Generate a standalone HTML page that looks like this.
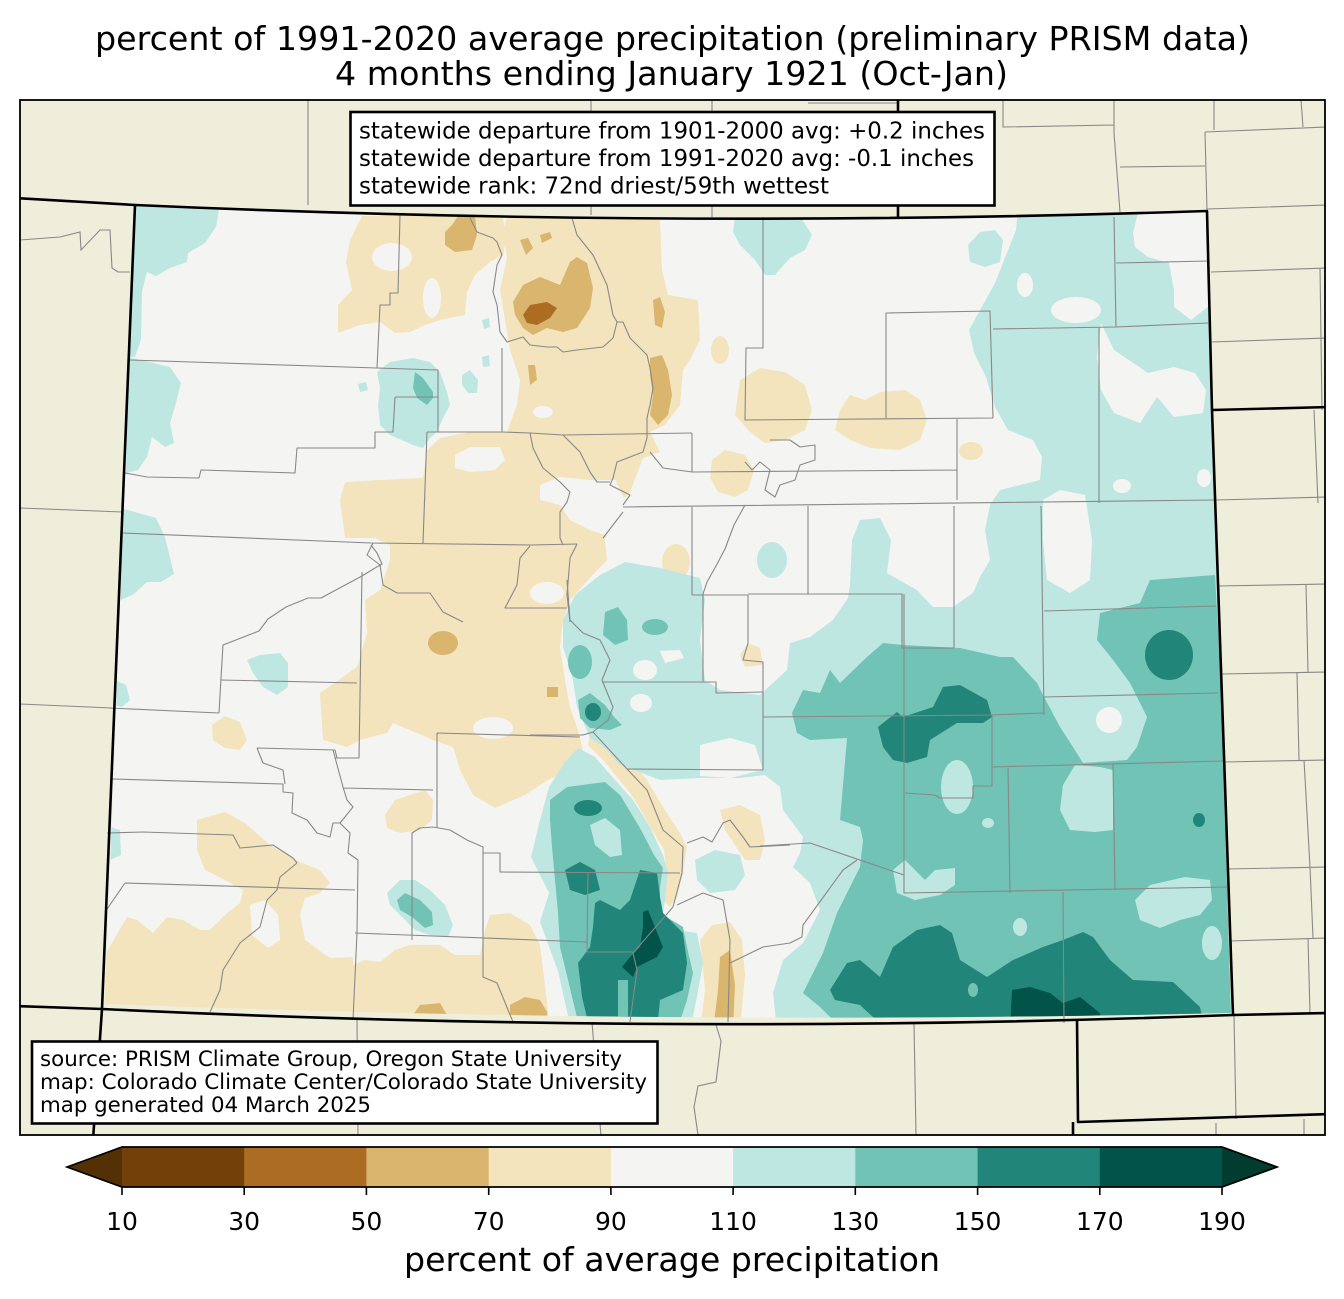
<!DOCTYPE html>
<html><head><meta charset="utf-8"><style>html,body{margin:0;padding:0;background:#fff}svg{display:block}text{font-family:"DejaVu Sans","Liberation Sans",sans-serif;fill:#000}</style></head><body>
<svg width="1344" height="1299" viewBox="0 0 1344 1299" xmlns="http://www.w3.org/2000/svg">
<rect width="1344" height="1299" fill="#fff"/>
<text x="95" y="50" font-size="33.3" textLength="1155" lengthAdjust="spacingAndGlyphs">percent of 1991-2020 average precipitation (preliminary PRISM data)</text>
<text x="335" y="85" font-size="33.3" textLength="673" lengthAdjust="spacingAndGlyphs">4 months ending January 1921 (Oct-Jan)</text>
<defs>
<clipPath id="fr"><rect x="20" y="100" width="1305" height="1035"/></clipPath>
<clipPath id="dc"><path d="M135,205 Q671,229 1207,211 L1212,410 L1231,1013 Q667,1025.5 105,1004 Z"/></clipPath>
</defs>
<g clip-path="url(#fr)">
<rect x="20" y="100" width="1305" height="1035" fill="#efeedb"/>
<g fill="none" stroke="#888" stroke-width="1.1">
<path d="M308,100 L308,205 M591,100 L591,215 M712,100 L712,217 M808,103 L897,103"/>
<path d="M1003,100 L1003,127 L1114,125 M1114,100 L1114,133 L1120,212 M1120,167 L1205,166 M1205,132 L1327,127 M1214,100 L1214,130 M1301,100 L1303,127 M1205,132 L1207,211 M1207,209 L1327,205 M1211,272 L1327,268 M1212,342 L1327,338 M1320,268 L1322,410"/>
<path d="M1216,500 L1327,497 M1314,410 L1318,503 M1218,586 L1327,584 M1306,584 L1308,672 M1221,674 L1327,672 M1297,672 L1299,760 M1223,762 L1327,760 M1304,760 L1310,867 M1227,869 L1327,867 M1310,867 L1313,938 M1230,941 L1327,938 M1308,938 L1310,1014"/>
<path d="M914,1024 L916,1135 M1234,1016 L1236,1119 M1216,1123 L1216,1135 M1304,1119 L1304,1135 M716,1025 L721,1041 L716,1082 L698,1086 L694,1107 L698,1135 M357,1018 L358,1136 M592,1022 L601,1136"/>
<path d="M20,240 L60,237 L80,232 L81,250 L100,230 L110,230 L112,268 L118,272 L130,272 M20,508 L122,512 M20,704 L112,708"/>
</g>
<g clip-path="url(#dc)">
<rect x="90" y="200" width="1160" height="840" fill="#f4f5f3"/>
<g fill="#f3e4bd">
<polygon points="362,216 470,216 503,218 506,240 503,255 490,262 475,275 467,292 465,315 450,318 440,320 425,325 410,332 395,333 380,322 360,325 338,333 338,305 352,290 346,262 350,240"/>
<polygon points="507,218 660,218 662,270 668,295 698,300 700,340 690,360 683,370 680,405 665,425 650,432 660,452 643,458 630,492 617,505 612,520 605,540 607,560 588,580 570,600 563,620 560,647 565,680 570,707 578,730 583,750 570,770 548,780 525,795 495,808 473,795 460,770 453,747 433,740 393,723 387,733 360,740 347,747 323,740 320,693 357,667 367,633 365,600 380,590 390,560 390,545 375,538 345,538 340,500 345,482 380,480 423,478 427,450 440,438 470,432 507,432 517,405 520,380 510,350 505,320 500,290 507,258 503,230"/>
<polygon points="105,1020 105,955 127,917 137,920 153,933 167,917 183,920 200,930 210,930 227,913 240,903 243,890 225,880 205,870 197,850 197,820 225,812 245,823 270,845 300,862 320,870 330,883 320,893 305,898 300,915 305,940 330,958 353,957 355,1030"/>
<polygon points="353,1030 353,965 365,960 380,962 395,950 410,945 440,945 455,955 480,955 485,930 490,915 510,913 530,925 540,945 545,985 550,1030"/>
<polygon points="212,725 225,716 240,722 247,740 240,750 225,748 213,740"/>
<polygon points="385,815 395,800 410,795 425,790 433,800 432,820 420,830 400,833 387,828"/>
<polygon points="590,733 610,737 630,760 647,780 663,807 680,833 687,847 683,873 677,897 670,907 663,900 667,873 664,850 648,823 633,797 617,777 603,760 588,745"/>
<polygon points="720,810 740,805 760,815 765,840 760,860 745,860 735,845 725,830"/>
<polygon points="700,940 712,925 730,922 742,940 745,975 740,1030 700,1030 705,990"/>
<polygon points="740,380 760,368 785,372 805,385 812,410 805,430 785,440 765,443 750,432 735,415"/>
<polygon points="840,410 850,395 865,400 880,392 905,390 920,400 927,420 920,440 900,450 870,448 850,440 835,430"/>
<ellipse cx="971" cy="451" rx="12" ry="9"/>
<polygon points="712,460 725,450 745,455 754,470 748,490 735,497 718,492 710,478"/>
<ellipse cx="676" cy="562" rx="14" ry="18"/>
<polygon points="740,655 748,643 760,648 763,665 745,667"/>
<ellipse cx="720" cy="350" rx="9" ry="14"/>
</g>
<g fill="#f4f5f3">
<ellipse cx="392" cy="257" rx="20" ry="14"/>
<ellipse cx="432" cy="298" rx="9" ry="20"/>
<polygon points="455,455 470,447 500,447 505,460 495,470 470,472 455,468"/>
<ellipse cx="543" cy="412" rx="10" ry="6"/>
<polygon points="540,485 560,477 590,480 615,480 625,500 620,520 605,535 590,530 570,520 560,505 540,500"/>
<ellipse cx="547" cy="593" rx="17" ry="11"/>
<ellipse cx="493" cy="728" rx="20" ry="11"/>
<polygon points="250,905 265,900 278,915 280,940 268,948 252,935"/>
</g>
<g fill="#dab56d">
<polygon points="458,216 475,216 477,235 472,250 455,252 445,245 445,232 452,225"/>
<polygon points="513,302 523,285 540,277 560,285 570,262 577,257 587,263 593,288 590,308 577,328 563,332 547,328 533,335 523,328 515,315"/>
<polygon points="520,240 528,238 533,248 526,255"/>
<polygon points="540,235 550,232 552,238 542,243"/>
<polygon points="650,358 662,355 668,370 672,395 668,415 658,425 650,415 653,395 650,375"/>
<polygon points="653,300 660,297 665,312 662,328 655,325"/>
<polygon points="528,365 535,365 537,380 530,385"/>
<ellipse cx="443" cy="643" rx="15" ry="12"/>
<polygon points="547,687 558,687 558,697 547,697"/>
<polygon points="413,1015 420,1005 440,1003 447,1015 447,1030 413,1030"/>
<polygon points="510,1005 525,997 540,1000 547,1012 548,1030 510,1030"/>
<polygon points="720,957 730,950 735,985 733,1030 713,1030 718,990"/>
</g>
<polygon fill="#ac6c21" points="523,315 530,305 547,302 557,308 550,318 537,325 527,323"/>
<g fill="#bfe7e2">
<polygon points="128,205 219,210 216,227 205,243 188,253 187,262 170,268 156,276 147,272 142,292 141,340 135,357 128,357"/>
<polygon points="128,357 170,367 181,383 176,403 170,423 174,443 165,447 152,437 147,457 138,470 126,473"/>
<polygon points="121,508 156,518 165,537 174,574 161,582 147,582 134,594 121,600"/>
<polygon points="247,660 260,655 280,653 288,663 288,687 277,695 263,687 253,673"/>
<polygon points="115,680 126,685 130,700 122,707 114,705"/>
<polygon points="110,827 120,830 121,855 110,860"/>
<polygon points="377,372 390,362 413,358 430,362 440,372 447,392 450,405 443,418 437,432 430,438 423,448 413,445 397,438 390,435 380,425 378,405 380,388"/>
<polygon points="358,384 366,382 368,390 360,392"/>
<polygon points="462,375 470,370 478,380 477,393 468,393 462,385"/>
<polygon points="482,357 489,355 490,366 483,367"/>
<polygon points="482,320 489,318 490,327 484,329"/>
<polygon points="735,216 800,216 812,235 805,250 790,258 775,275 765,275 755,260 740,245 733,232"/>
<polygon points="968,245 980,232 995,230 1003,240 1000,262 985,267 970,262"/>
<polygon points="1018,210 1210,205 1214,410 1240,1030 777,1030 773,993 783,960 803,943 820,910 810,883 793,867 800,853 803,837 783,810 780,787 765,775 740,778 700,778 660,780 620,765 605,748 590,738 577,707 573,680 563,647 563,620 575,595 600,575 625,562 660,568 700,578 705,600 700,640 705,680 720,690 760,695 787,670 790,643 810,637 833,620 848,598 850,585 852,540 860,520 880,518 891,540 887,573 917,590 933,607 953,607 973,593 980,577 990,560 985,530 990,505 1000,490 1040,480 1042,457 1033,440 1008,430 995,407 986,377 974,353 969,330 995,283 1003,263 1016,230"/>
<polygon points="578,748 595,757 608,772 633,800 650,827 663,855 668,872 665,900 663,913 677,930 697,933 703,963 697,997 690,1030 571,1030 558,971 540,922 549,893 531,857 540,820 549,787 565,762"/>
<polygon points="387,893 400,880 415,880 430,890 445,905 453,925 448,937 430,935 415,930 400,915 390,905"/>
<polygon points="695,860 715,850 740,855 745,875 735,890 710,893 697,880"/>
<ellipse cx="772" cy="560" rx="15" ry="18"/>
</g>
<g fill="#f4f5f3">
<polygon points="1140,205 1215,205 1210,305 1191,320 1174,307 1174,290 1169,263 1148,257 1135,247 1133,233"/>
<ellipse cx="1076" cy="310" rx="25" ry="13"/>
<polygon points="1097,357 1101,323 1114,350 1148,373 1174,367 1195,373 1206,390 1203,413 1174,417 1157,397 1140,423 1114,413 1101,390"/>
<polygon points="1043,500 1060,490 1085,495 1092,540 1090,580 1070,593 1047,580 1043,540"/>
<ellipse cx="1204" cy="478" rx="7" ry="9"/>
<ellipse cx="1122" cy="486" rx="9" ry="7"/>
<ellipse cx="1025" cy="285" rx="8" ry="12"/>
<circle cx="1109" cy="720" r="13"/>
<polygon points="700,745 730,738 755,745 763,770 730,778 700,776"/>
<polygon points="660,651 680,650 684,658 665,663"/>
<ellipse cx="645" cy="670" rx="12" ry="10"/>
<ellipse cx="641" cy="703" rx="11" ry="9"/>
</g>
<g fill="#71c3b6">
<polygon points="415,372 423,378 433,392 433,398 427,405 417,398 413,388"/>
<polygon points="605,612 618,607 627,620 628,640 615,645 603,635"/>
<ellipse cx="655" cy="627" rx="13" ry="8"/>
<ellipse cx="580" cy="662" rx="12" ry="17"/>
<polygon points="578,700 590,693 605,705 615,718 622,725 610,730 590,728 580,718"/>
<polygon points="550,800 567,787 605,782 620,795 640,828 654,855 663,868 660,887 660,913 683,927 687,947 693,973 687,1000 677,1030 580,1030 568,980 560,947 558,913 555,880 552,847 550,820"/>
<polygon points="397,900 405,893 420,900 432,912 433,925 425,928 412,917 400,910"/>
<polygon points="1150,580 1215,575 1240,1030 843,1030 820,1007 803,993 823,953 837,913 860,867 863,840 860,827 840,820 847,738 810,740 797,733 792,713 803,690 820,693 830,670 840,683 867,657 883,643 903,645 960,648 1000,657 1013,657 1037,683 1043,695 1060,727 1073,747 1083,763 1127,760 1137,747 1147,717 1130,683 1113,660 1097,640 1100,613 1140,603"/>
</g>
<g fill="#bfe7e2">
<polygon points="590,825 605,818 620,830 622,855 610,857 595,845"/>
<polygon points="1075,765 1100,767 1113,770 1113,830 1095,832 1070,830 1060,810 1063,785"/>
<ellipse cx="957" cy="787" rx="16" ry="27"/>
<polygon points="1135,900 1150,885 1185,877 1210,880 1212,900 1200,915 1180,920 1160,928 1140,920"/>
<ellipse cx="1212" cy="943" rx="10" ry="17"/>
<polygon points="893,870 905,860 925,880 935,870 955,868 955,885 940,895 915,900 897,893"/>
<ellipse cx="1020" cy="927" rx="7" ry="9"/>
<ellipse cx="988" cy="823" rx="6" ry="5"/>
</g>
<g fill="#218579">
<ellipse cx="593" cy="712" rx="8" ry="9"/>
<ellipse cx="588" cy="808" rx="14" ry="8"/>
<polygon points="565,870 580,862 595,870 600,890 585,895 570,890"/>
<polygon points="595,903 600,900 620,910 630,900 640,870 657,873 660,897 663,913 683,933 687,963 683,990 660,1000 657,1030 590,1030 582,997 578,963 590,947 593,927"/>
<ellipse cx="1169" cy="655" rx="24" ry="25"/>
<polygon points="878,727 897,712 903,717 933,707 943,687 960,685 987,700 992,717 983,723 957,723 930,740 927,757 907,763 893,760 883,747"/>
<polygon points="830,990 847,963 860,960 880,977 893,947 917,930 940,925 952,933 960,960 987,977 1013,960 1043,947 1063,940 1083,932 1093,937 1110,960 1133,980 1173,982 1200,1007 1205,1030 887,1030 860,1005 835,1000"/>
<ellipse cx="1199" cy="820" rx="6" ry="7"/>
</g>
<g fill="#71c3b6">
<ellipse cx="973" cy="990" rx="5" ry="7"/>
<polygon points="618,980 628,980 628,1030 618,1030"/>
</g>
<g fill="#02544a">
<polygon points="643,912 648,910 663,947 657,957 637,967 633,977 622,967 630,957 640,947 643,927"/>
<polygon points="1010,1030 1012,990 1030,987 1050,993 1063,1003 1080,997 1100,1013 1102,1030"/>
</g>
</g>
<g fill="none" stroke="#888" stroke-width="1.1" stroke-linejoin="round">
<path d="M130,360 L377,368 L380,305 L390,305 L390,293 L398,293 L400,215"/>
<path d="M377,368 L438,370 L438,432 M395,397 L438,397"/>
<path d="M125,473 L147,477 L199,478 L201,470 L295,473 L297,448 L375,448 L375,432 L393,432 L395,397"/>
<path d="M427,432 L502,432 L530,433 L563,435 L692,433 M427,432 L423,543"/>
<path d="M123,533 L371,543 L531,545 L577,544"/>
<path d="M371,545 L377,553 L382,564 L375,568 L362,576 L321,598 L308,598 L286,607 L268,619 L259,631 L223,645 L221,678 L219,713 M362,572 L359,758 L335,758"/>
<path d="M221,680 L357,683 M109,708 L219,713 M257,748 L335,750 L337,758 L357,758"/>
<path d="M112,779 L283,784 L283,792 L293,793 L292,813 L307,820 L317,833 L330,837 L333,823 L340,823 M257,748 L263,763 L283,770 L285,784"/>
<path d="M333,750 L343,787 L347,800 L353,807 L340,823 M343,788 L433,790 M437,733 L437,827 M437,733 L580,737"/>
<path d="M340,823 L350,833 L348,853 L358,860 L357,933 L353,1020"/>
<path d="M107,833 L143,832 L233,835 L240,848 L273,845 L293,858 L297,863 M125,883 L355,890 M125,883 L105,912"/>
<path d="M297,863 L280,877 L277,890 L267,900 L260,927 L240,943 L223,970 L220,990 L210,1012"/>
<path d="M412,940 L412,833 L420,828 L433,827 L450,830 L467,840 L483,847 L483,942 M483,853 L500,853 L500,872 L680,873 M355,933 L587,942 M588,873 L587,952 L633,952 M483,942 L483,977 L497,983 L513,1022"/>
<path d="M567,580 L570,620 L583,633 L600,640 L610,660 L602,680 L613,707 L608,720 L593,732 M602,682 L716,682 L716,693 L763,692 M703,594 L703,682 M530,608 L567,608"/>
<path d="M748,595 L748,643 L743,660 L763,662 L763,770 L627,769 M530,735 L583,735 L593,732"/>
<path d="M593,732 L627,769 L647,790 L663,830 L683,847 L682,873 L673,907 L633,953 L637,970 L630,1022"/>
<path d="M687,843 L703,837 L712,842 L723,823 L730,820 L743,837 L750,847 L790,845 M677,905 L703,893 L723,900 L730,940 L728,1022 M730,963 L763,947 L790,943 L802,937 L803,925 L843,870 L857,860"/>
<path d="M470,218 L477,232 L493,238 L497,242 L502,255 L497,265 L493,292 L497,305 L500,332 L507,342 L523,337 L530,345 L547,347 L557,347 L563,352 L577,350 L603,347 L613,338 L617,322 L623,322 L630,338 L647,355 L650,368 L653,388 L650,405 L647,418 L647,438 L643,452 L617,462 L613,478 L610,485 L630,495 L623,505"/>
<path d="M572,218 L577,235 L593,255 L607,285 L613,315 L617,322 M502,348 L502,432"/>
<path d="M530,433 L533,448 L543,468 L560,482 L570,492 L567,502 L560,512 L560,538 L563,545 M563,435 L580,452 L590,472 L597,482 L610,482"/>
<path d="M692,433 L692,472 L663,468 L650,452 M623,507 L1214,500 M692,507 L692,595 M692,595 L748,595"/>
<path d="M373,543 L367,555 L380,565 L383,585 L397,593 L430,593 L443,612 L463,622 M530,546 L520,558 L517,585 L505,608 L567,608 M577,544 L570,558 L567,595 L570,622 M603,538 L623,512"/>
<path d="M763,217 L763,348 L746,348 L745,420 L993,418 M886,418 L886,313 L990,311 L993,418 M993,329 L1116,327 L1208,323 M1114,217 L1116,327 M1116,263 L1208,261 M1099,327 L1099,503 M957,419 L957,500 M692,472 L957,470"/>
<path d="M745,505 L734,525 L725,549 L716,566 L707,582 L703,594 M808,506 L808,594 M748,594 L902,594 L902,648 L954,648 L954,506 M1041,506 L1044,715 M1044,611 L1216,606 M1044,697 L1218,693"/>
<path d="M763,717 L990,715 L1043,713 M992,715 L992,786 L973,786 L973,798 L940,798 L935,795 L920,794 L905,793 M992,767 L1223,761 M1008,768 L1010,893 M1113,764 L1115,889"/>
<path d="M904,594 L904,893 L1227,887 M1063,892 L1064,1023 M760,846 L810,843 L904,875"/>
<path d="M770,440 L790,440 L800,447 L815,445 L815,460 L800,465 L795,480 L780,485 L775,497 L765,490 L770,470 L760,462 L752,470 L745,462"/>
</g>
<g fill="none" stroke="#000" stroke-width="2.6" stroke-linejoin="round">
<path d="M135,205 Q671,229 1207,211 L1212,410 L1233,1015 Q667,1036 102,1009 Z"/>
<path d="M15,198 L135,205 M102,1009 L93,1140 M15,1006 L102,1009 M1233,1015 L1330,1013 M898,95 L898,217 M1212,410 L1330,407 M1077,1019 L1078,1122 L1330,1114 M1073,1122 L1073,1140"/>
</g>
</g>
<rect x="20" y="100" width="1305" height="1035" fill="none" stroke="#000" stroke-width="1.8"/>
<rect x="350.5" y="112" width="644" height="93.5" fill="#fff" stroke="#000" stroke-width="2.6"/>
<text x="359" y="138.5" font-size="22.9" textLength="626" lengthAdjust="spacingAndGlyphs">statewide departure from 1901-2000 avg: +0.2 inches</text>
<text x="359" y="166" font-size="22.9" textLength="615" lengthAdjust="spacingAndGlyphs">statewide departure from 1991-2020 avg: -0.1 inches</text>
<text x="359" y="193.5" font-size="22.9" textLength="470" lengthAdjust="spacingAndGlyphs">statewide rank: 72nd driest/59th wettest</text>
<rect x="32" y="1041.5" width="625.5" height="82" fill="#fff" stroke="#000" stroke-width="2.6"/>
<text x="40" y="1066" font-size="21.3" textLength="582" lengthAdjust="spacingAndGlyphs">source: PRISM Climate Group, Oregon State University</text>
<text x="40" y="1089" font-size="21.3" textLength="607" lengthAdjust="spacingAndGlyphs">map: Colorado Climate Center/Colorado State University</text>
<text x="40" y="1112" font-size="21.3" textLength="331" lengthAdjust="spacingAndGlyphs">map generated 04 March 2025</text>
<polygon points="67,1167 122,1147 122,1187" fill="#543005"/>
<rect x="122" y="1147" width="122.7" height="40" fill="#74400a"/>
<rect x="244.2" y="1147" width="122.7" height="40" fill="#ac6c21"/>
<rect x="366.4" y="1147" width="122.7" height="40" fill="#dab56d"/>
<rect x="488.7" y="1147" width="122.7" height="40" fill="#f3e4bd"/>
<rect x="610.9" y="1147" width="122.7" height="40" fill="#f4f5f3"/>
<rect x="733.1" y="1147" width="122.7" height="40" fill="#bfe7e2"/>
<rect x="855.3" y="1147" width="122.7" height="40" fill="#71c3b6"/>
<rect x="977.6" y="1147" width="122.7" height="40" fill="#218579"/>
<rect x="1099.8" y="1147" width="122.2" height="40" fill="#02544a"/>
<polygon points="1222,1147 1277,1167 1222,1187" fill="#003c30"/>
<polygon points="67,1167 122,1147 1222,1147 1277,1167 1222,1187 122,1187" fill="none" stroke="#000" stroke-width="1.7"/>
<g stroke="#000" stroke-width="1.6">
<line x1="122" y1="1187" x2="122" y2="1195"/><line x1="244.2" y1="1187" x2="244.2" y2="1195"/><line x1="366.4" y1="1187" x2="366.4" y2="1195"/><line x1="488.7" y1="1187" x2="488.7" y2="1195"/><line x1="610.9" y1="1187" x2="610.9" y2="1195"/><line x1="733.1" y1="1187" x2="733.1" y2="1195"/><line x1="855.3" y1="1187" x2="855.3" y2="1195"/><line x1="977.6" y1="1187" x2="977.6" y2="1195"/><line x1="1099.8" y1="1187" x2="1099.8" y2="1195"/><line x1="1222" y1="1187" x2="1222" y2="1195"/>
</g>
<g font-size="25" text-anchor="middle">
<text x="122" y="1230">10</text><text x="244.2" y="1230">30</text><text x="366.4" y="1230">50</text><text x="488.7" y="1230">70</text><text x="610.9" y="1230">90</text><text x="733.1" y="1230">110</text><text x="855.3" y="1230">130</text><text x="977.6" y="1230">150</text><text x="1099.8" y="1230">170</text><text x="1222" y="1230">190</text>
</g>
<text x="404" y="1271" font-size="33.3" textLength="536" lengthAdjust="spacingAndGlyphs">percent of average precipitation</text>
</svg>
</body></html>
